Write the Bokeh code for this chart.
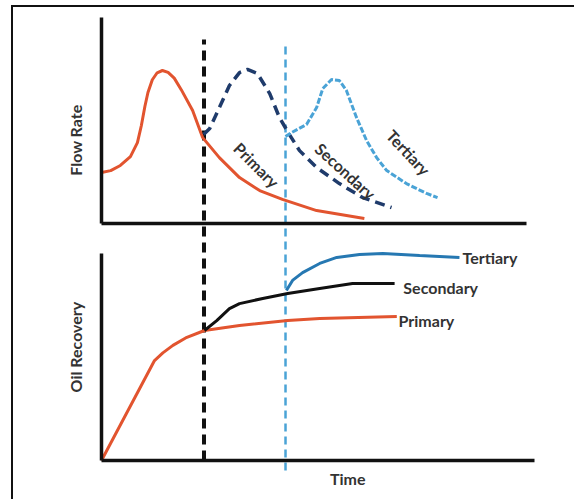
from bokeh.plotting import figure
from bokeh.models import Range1d, LinearAxis, FixedTicker
from bokeh.core.properties import value
from bokeh.embed import file_html
from bokeh.resources import INLINE

# ---------------- data (time in arbitrary units 0..100) ----------------
# Top panel: flow rate (0..100)
primary_flow_t = [0, 2.1, 4.3, 6.6, 8.2, 9.1, 9.9, 10.6, 11.6, 12.7, 13.9, 15.2, 16.6, 18.2, 20.8, 23.1, 26.9, 31.5, 36.1, 41.3, 49.1, 60.0]
primary_flow = [24.8, 25.7, 28.2, 32.5, 39.3, 47.6, 56.8, 63.6, 69.8, 73.2, 74.3, 73.4, 70.6, 65.0, 54.9, 41.7, 32.0, 22.3, 16.0, 11.7, 6.3, 2.4]

secondary_flow_t = [23.3, 24.7, 26.9, 29.2, 31.5, 33.3, 35.6, 38.4, 40.6, 42.9, 45.2, 49.1, 54.3, 59.6, 66.2]
secondary_flow = [43.2, 46.1, 56.3, 67.0, 73.3, 74.8, 72.8, 63.1, 51.5, 43.2, 35.4, 27.2, 19.4, 12.6, 7.8]

tertiary_flow_t = [42.0, 43.4, 46.8, 49.1, 50.5, 52.5, 54.3, 55.9, 58.2, 60.5, 62.8, 65.1, 69.6, 74.2, 76.7]
tertiary_flow = [42.2, 44.2, 48.1, 56.3, 65.5, 69.9, 69.4, 64.6, 51.5, 40.3, 32.0, 25.7, 19.4, 14.6, 12.6]

# Bottom panel: oil recovery (0..100)
primary_rec_t = [0, 12.1, 14.0, 16.3, 19.2, 23.5, 31.5, 42.5, 49.8, 67.4]
primary_rec = [0, 48.3, 52.0, 55.6, 59.2, 62.8, 65.2, 67.6, 68.6, 69.6]

secondary_rec_t = [23.5, 26.3, 29.2, 31.5, 36.8, 42.5, 49.8, 57.3, 66.9]
secondary_rec = [62.8, 67.6, 73.4, 75.8, 78.3, 80.7, 83.1, 85.5, 85.5]

tertiary_rec_t = [42.2, 43.6, 45.9, 49.8, 53.7, 58.9, 64.2, 72.6, 81.7]
tertiary_rec = [82.1, 87.0, 90.8, 95.2, 98.1, 99.5, 100.0, 99.0, 98.1]

# Start of secondary / tertiary recovery (vertical dashed markers)
phase_starts = [23.4, 42.0]
phase_names = ["Secondary", "Tertiary"]

series_names = ["Primary", "Secondary", "Tertiary"]

# ---------------- styling / layout ----------------
RED = "#E2542F"
NAVY = "#1F3B6B"
LIGHTBLUE = "#4AA3D6"
MIDBLUE = "#2678B2"
BLACK = "#111111"
TXT = "#333333"
FONT = value("Lato")

p = figure(
    width=563, height=494,
    x_range=Range1d(-10.5, 100.2), y_range=Range1d(-14.5, 215.0),
    output_backend="svg", toolbar_location=None,
    min_border_left=42, min_border_right=36, min_border_top=8, min_border_bottom=11,
    x_axis_type=None, y_axis_type=None,
)
# flow panel sits above the recovery panel on the same frame
p.extra_y_ranges = {"flow": Range1d(-129.6, 101.0)}
p.xgrid.visible = False
p.ygrid.visible = False
p.outline_line_color = None
p.background_fill_color = "white"
p.border_fill_color = "white"
p.styles = {"position": "absolute", "left": "11px", "top": "5px",
            "border-top": "2px solid #111", "border-left": "2px solid #111"}


def bare_axis(ax):
    ax.ticker = FixedTicker(ticks=[])
    ax.axis_line_width = 3.5
    ax.axis_line_color = BLACK
    ax.major_tick_line_color = None
    ax.minor_tick_line_color = None
    ax.major_label_standoff = 0
    ax.major_tick_out = 0
    ax.major_tick_in = 0
    ax.minor_tick_out = 0
    ax.minor_tick_in = 0
    return ax


# Bottom panel axes
rec_y = bare_axis(LinearAxis(fixed_location=0, bounds=(0, 100)))
rec_x = bare_axis(LinearAxis(fixed_location=0, bounds=(0, 98.8)))
p.add_layout(rec_y, "left")
p.add_layout(rec_x, "below")
# Top panel axes
flow_y = bare_axis(LinearAxis(y_range_name="flow", fixed_location=0, bounds=(0, 100)))
flow_x = bare_axis(LinearAxis(y_range_name="flow", fixed_location=0, bounds=(0, 97.0)))
p.add_layout(flow_y, "left")
p.add_layout(flow_x, "below")

# Vertical phase markers (span both panels, recovery units)
marker_bottom = [0, -4.8]
marker_top = [203.4, 200.5]
p.segment(x0=[phase_starts[0]], y0=[marker_bottom[0]], x1=[phase_starts[0]], y1=[marker_top[0]],
          line_color=BLACK, line_width=4, line_dash="10 6")
p.segment(x0=[phase_starts[1]], y0=[marker_bottom[1]], x1=[phase_starts[1]], y1=[marker_top[1]],
          line_color=LIGHTBLUE, line_width=2.5, line_dash="8 5")

# Flow rate curves
p.line(primary_flow_t, primary_flow, y_range_name="flow", line_color=RED, line_width=3)
p.line(secondary_flow_t, secondary_flow, y_range_name="flow", line_color=NAVY, line_width=3.5, line_dash="10 6")
p.line(tertiary_flow_t, tertiary_flow, y_range_name="flow", line_color=LIGHTBLUE, line_width=3, line_dash="6 2")

# Recovery curves
p.line(primary_rec_t, primary_rec, line_color=RED, line_width=3)
p.line(secondary_rec_t, secondary_rec, line_color=BLACK, line_width=3)
p.line(tertiary_rec_t, tertiary_rec, line_color=MIDBLUE, line_width=3)

# Rotated labels in flow panel
p.text(x=[35.4, 55.7, 70.1], y=[28.5, 25.5, 34.5], text=series_names, angle=[-0.785, -0.74, -0.82],
       y_range_name="flow", text_align="center", text_baseline="middle",
       text_font=FONT, text_font_style="bold", text_font_size="16px", text_color=TXT)

# End labels in recovery panel
p.text(x=[67.8, 68.9, 82.4], y=[67.4, 83.8, 98.3], text=series_names,
       text_align="left", text_baseline="middle",
       text_font=FONT, text_font_style="bold", text_font_size="16px", text_color=TXT)

# Axis titles
p.text(x=[-5.9], y=[54.8], text=["Oil Recovery"], angle=1.5708, text_align="center", text_baseline="middle",
       text_font=FONT, text_font_style="bold", text_font_size="16px", text_color=TXT)
p.text(x=[-5.9], y=[40.5], text=["Flow Rate"], angle=1.5708, y_range_name="flow",
       text_align="center", text_baseline="middle",
       text_font=FONT, text_font_style="bold", text_font_size="16px", text_color=TXT)
p.text(x=[56.2], y=[-8.7], text=["Time"], text_align="center", text_baseline="middle",
       text_font=FONT, text_font_style="bold", text_font_size="16px", text_color=TXT)

open("out.html", "w").write(file_html(p, INLINE))
